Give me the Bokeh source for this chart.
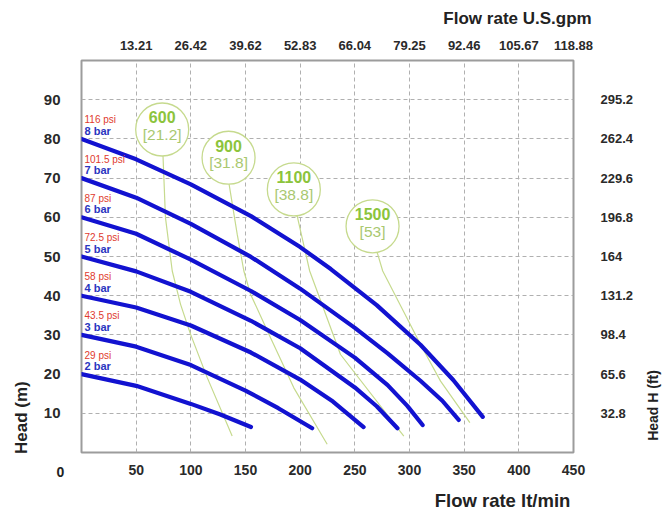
import math
from bokeh.plotting import figure
from bokeh.models import LinearAxis, FixedTicker, Range1d, Label
from bokeh.embed import file_html
from bokeh.resources import INLINE
from bokeh.core.properties import value

# ---------------- data ----------------
flow_ticks = [50, 100, 150, 200, 250, 300, 350, 400, 450]
gpm_labels = ["13.21", "26.42", "39.62", "52.83", "66.04", "79.25", "92.46", "105.67", "118.88"]
head_ticks = [10, 20, 30, 40, 50, 60, 70, 80, 90]
ft_labels = ["32.8", "65.6", "98.4", "131.2", "164", "196.8", "229.6", "262.4", "295.2"]

start_heads = [20, 30, 40, 50, 60, 70, 80]
psi_labels = ["29 psi", "43.5 psi", "58 psi", "72.5 psi", "87 psi", "101.5 psi", "116 psi"]
bar_labels = ["2 bar", "3 bar", "4 bar", "5 bar", "6 bar", "7 bar", "8 bar"]

q_2bar = [0, 50, 100, 127, 155]
h_2bar = [20, 17.0, 12.4, 9.7, 6.5]
q_3bar = [0, 50, 100, 150, 180, 211]
h_3bar = [30, 27.0, 22.3, 15.8, 11.3, 6.2]
q_4bar = [0, 50, 100, 155, 200, 230, 258]
h_4bar = [40, 37.0, 32.4, 25.5, 18.6, 13.0, 6.5]
q_5bar = [0, 50, 100, 155, 200, 250, 270, 289]
h_5bar = [50, 46.2, 41.0, 33.6, 26.6, 16.6, 11.8, 6.2]
q_6bar = [0, 50, 100, 155, 200, 250, 280, 298, 312]
h_6bar = [60, 55.8, 49.2, 41.2, 33.8, 24.2, 17.2, 11.9, 7.0]
q_7bar = [0, 50, 100, 155, 200, 250, 280, 310, 330, 345]
h_7bar = [70, 65.0, 58.3, 49.9, 41.8, 31.8, 25.3, 18.3, 13.2, 8.3]
q_8bar = [0, 50, 100, 155, 200, 228, 270, 310, 340, 367]
h_8bar = [80, 74.8, 68.4, 60.3, 52.4, 46.8, 37.6, 27.5, 18.5, 9.1]

air_nl = ["600", "900", "1100", "1500"]
air_scfm = ["[21.2]", "[31.8]", "[38.8]", "[53]"]
air_q = [73.8, 134.5, 194.2, 266.2]
air_h = [82.4, 75.2, 67.1, 57.7]

q_600 = [74.5, 76.8, 83.0, 90.6, 99.7, 115.0, 137.8]
h_600 = [76.0, 59.9, 46.3, 37.8, 30.2, 19.1, 4.2]
q_900 = [134.8, 142.4, 148.5, 154.6, 172.9, 194.2, 224.7]
h_900 = [68.8, 55.7, 46.3, 40.4, 29.3, 16.5, 2.1]
q_1100 = [194.5, 197.3, 208.7, 236.9, 294.8]
h_1100 = [60.5, 60.3, 46.3, 25.0, 4.2]
q_1500 = [266.2, 270.5, 275.5, 310.0, 328.4, 355.2]
h_1500 = [51.2, 51.0, 46.3, 27.6, 18.2, 7.6]

# ---------------- figure ----------------
FONT = "Liberation Sans"
BLUE = "#1212d0"
GREEN_T = "#8cc43c"
GREEN_L = "#c6da8e"
INK = "#2a2a2a"

p = figure(width=662, height=510, x_range=Range1d(0, 450), y_range=Range1d(0, 100),
           output_backend="svg", toolbar_location=None,
           min_border_left=81, min_border_right=89, min_border_top=60, min_border_bottom=58)
p.outline_line_color = "#9c9c9c"
p.outline_line_width = 2
p.background_fill_color = "white"
p.border_fill_color = "white"


def style_axis(ax, standoff, size="14px"):
    ax.axis_line_color = None
    ax.major_tick_line_color = None
    ax.minor_tick_line_color = None
    ax.major_tick_out = 0
    ax.minor_tick_out = 0
    ax.major_label_standoff = standoff
    ax.major_label_text_font = FONT
    ax.major_label_text_font_style = "bold"
    ax.major_label_text_font_size = size
    ax.major_label_text_color = INK


p.xaxis.ticker = FixedTicker(ticks=flow_ticks)
p.yaxis.ticker = FixedTicker(ticks=head_ticks)
style_axis(p.xaxis[0], 12)
style_axis(p.yaxis[0], 21, "15px")

top_axis = LinearAxis(ticker=FixedTicker(ticks=flow_ticks),
                      major_label_overrides={t: l for t, l in zip(flow_ticks, gpm_labels)})
style_axis(top_axis, 11, "13px")
p.add_layout(top_axis, "above")

right_axis = LinearAxis(ticker=FixedTicker(ticks=head_ticks),
                        major_label_overrides={t: l for t, l in zip(head_ticks, ft_labels)})
style_axis(right_axis, 27, "13px")
p.add_layout(right_axis, "right")


def side_label(side, x, y, text, size, angle=0.0):
    # labels living in a side panel are drawn outside the (clipped) frame
    lab = Label(x=x, y=y, text=text, angle=angle, text_font=FONT, text_font_style="bold",
                text_font_size=size, text_color="#222222",
                text_align="center", text_baseline="middle")
    p.add_layout(lab, side)


side_label("below", 385.1, -12.2, "Flow rate lt/min", "18.5px")
side_label("above", 398.8, 110.8, "Flow rate U.S.gpm", "17px")
side_label("left", -55.2, 8.9, "Head (m)", "17px", math.pi / 2)
side_label("right", 522.3, 12.0, "Head H (ft)", "14px", math.pi / 2)
side_label("left", -19.2, -5.0, "0", "14px")

p.xgrid.ticker = FixedTicker(ticks=flow_ticks[:-1])
p.ygrid.ticker = FixedTicker(ticks=head_ticks)
for g in (p.xgrid[0], p.ygrid[0]):
    g.grid_line_color = "#b0b0b0"
    g.grid_line_dash = "4 3"
    g.grid_line_width = 1

# air consumption lines
for qx, hy in ((q_600, h_600), (q_900, h_900), (q_1100, h_1100), (q_1500, h_1500)):
    p.line(qx, hy, line_color=GREEN_L, line_width=1.2)

# pump curves
for qx, hy in ((q_2bar, h_2bar), (q_3bar, h_3bar), (q_4bar, h_4bar), (q_5bar, h_5bar),
               (q_6bar, h_6bar), (q_7bar, h_7bar), (q_8bar, h_8bar)):
    p.line(qx, hy, line_color=BLUE, line_width=4.2, line_cap="round", line_join="round")

# bubbles
p.scatter(air_q, air_h, marker="circle", size=53, fill_color="white",
          line_color=GREEN_L, line_width=1.3)
p.text(air_q, air_h, text=air_nl, y_offset=-12, text_align="center", text_baseline="middle",
       text_font=value(FONT), text_font_style="bold", text_font_size="16px", text_color=GREEN_T)
p.text(air_q, air_h, text=air_scfm, y_offset=5, text_align="center", text_baseline="middle",
       text_font=value(FONT), text_font_size="15.5px", text_color="#a9c870")

# pressure labels
zeros = [0] * len(start_heads)
p.text(zeros, start_heads, text=psi_labels, x_offset=3, y_offset=-19, text_align="left",
       text_baseline="middle", text_font=value(FONT), text_font_size="10px", text_color="#e03a2e")
p.text(zeros, start_heads, text=bar_labels, x_offset=3, y_offset=-8, text_align="left",
       text_baseline="middle", text_font=value(FONT), text_font_style="bold",
       text_font_size="11px", text_color="#2a35c0")

open("out.html", "w").write(file_html(p, INLINE))
